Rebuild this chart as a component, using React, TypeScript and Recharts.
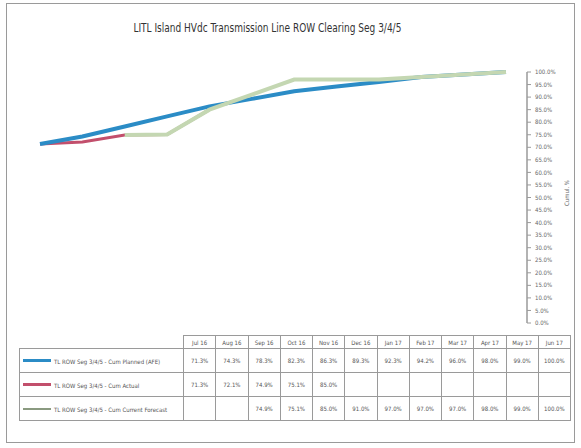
import { LineChart, Line, XAxis, YAxis } from 'recharts';

const months = ['Jul 16', 'Aug 16', 'Sep 16', 'Oct 16', 'Nov 16', 'Dec 16', 'Jan 17', 'Feb 17', 'Mar 17', 'Apr 17', 'May 17', 'Jun 17'];
const planned = [71.3, 74.3, 78.3, 82.3, 86.3, 89.3, 92.3, 94.2, 96.0, 98.0, 99.0, 100.0];
const actual = [71.3, 72.1, 74.9, 75.1, 85.0, null, null, null, null, null, null, null];
const forecast = [null, null, 74.9, 75.1, 85.0, 91.0, 97.0, 97.0, 97.0, 98.0, 99.0, 100.0];
const yTicks = [0, 5, 10, 15, 20, 25, 30, 35, 40, 45, 50, 55, 60, 65, 70, 75, 80, 85, 90, 95, 100];

const seriesNames = [
  'TL ROW Seg 3/4/5 - Cum Planned (AFE)',
  'TL ROW Seg 3/4/5 - Cum Actual',
  'TL ROW Seg 3/4/5 - Cum Current Forecast',
];

const BLUE = '#2B8CC6';
const RED = '#C24F6C';
const GREEN = '#C4D7B2';
const FONT = '"Liberation Sans Narrow", "DejaVu Sans Condensed", "Liberation Sans", sans-serif';
const GRID = '#9a9a9a';

const data = months.map((m, i) => ({ month: m, planned: planned[i], actual: actual[i], forecast: forecast[i] }));

const fmt = (v: number | null) => (v == null ? '' : `${v.toFixed(1)}%`);

const rows = [
  { name: seriesNames[0], values: planned, color: BLUE, width: 3 },
  { name: seriesNames[1], values: actual, color: RED, width: 3 },
  { name: seriesNames[2], values: forecast, color: '#8a9a80', width: 1.5 },
];

export default function App() {
  const firstCol = 164;
  const colW = 32.25;
  const cell = { border: `1.5px solid ${GRID}`, textAlign: 'center' as const, fontSize: 6, color: '#555', padding: 0, overflow: 'hidden' };

  return (
    <div style={{ position: 'absolute', left: 0, top: 0, width: 581, height: 448, background: '#fff', fontFamily: FONT }}>
      <div style={{ position: 'absolute', left: 6, top: 3, width: 567, height: 438, border: `1.5px solid ${GRID}` }} />
      <div
        style={{
          position: 'absolute', left: 0, width: 535, top: 20, textAlign: 'center', fontSize: 12.5, color: '#333',
          transform: 'scaleX(0.8)', transformOrigin: '267px 0',
        }}
      >
        LITL Island HVdc Transmission Line ROW Clearing Seg 3/4/5
      </div>

      <div style={{ position: 'absolute', left: 0, top: 0 }}>
        <LineChart width={581} height={448} data={data} margin={{ top: 72, right: 14, bottom: 125, left: 19 }}>
          <XAxis dataKey="month" hide padding={{ left: 21, right: 21 }} />
          <YAxis
            orientation="right"
            width={40}
            domain={[0, 100]}
            ticks={yTicks}
            interval={0}
            tickFormatter={(v: number) => `${v.toFixed(1)}%`}
            tick={{ fontSize: 6, fill: '#666', fontFamily: FONT }}
            tickSize={4}
            tickMargin={4}
            stroke={GRID}
            axisLine={{ stroke: GRID, strokeWidth: 1.5 }}
          />
          <Line dataKey="actual" stroke={RED} strokeWidth={3} dot={false} type="linear" isAnimationActive={false} />
          <Line dataKey="planned" stroke={BLUE} strokeWidth={4} dot={false} type="linear" isAnimationActive={false} />
          <Line dataKey="forecast" stroke={GREEN} strokeWidth={4} dot={false} type="linear" isAnimationActive={false} />
        </LineChart>
      </div>

      <div
        style={{
          position: 'absolute', left: 566, top: 193, transform: 'translate(-50%, -50%) rotate(-90deg)',
          fontSize: 6, color: '#666', whiteSpace: 'nowrap',
        }}
      >
        Cumul. %
      </div>

      <table
        style={{
          position: 'absolute', left: 19, top: 335, width: firstCol + colW * 12, borderCollapse: 'collapse',
          tableLayout: 'fixed', fontFamily: FONT,
        }}
      >
        <colgroup>
          <col style={{ width: firstCol }} />
          {months.map((m) => (
            <col key={m} style={{ width: colW }} />
          ))}
        </colgroup>
        <tbody>
          <tr style={{ height: 13 }}>
            <td style={{ padding: 0, border: 'none', borderBottom: `1.5px solid ${GRID}` }} />
            {months.map((m) => (
              <td key={m} style={cell}>{m}</td>
            ))}
          </tr>
          {rows.map((r) => (
            <tr key={r.name} style={{ height: 24 }}>
              <td style={{ ...cell, textAlign: 'left', whiteSpace: 'nowrap' }}>
                <span style={{ display: 'inline-block', width: 28, height: r.width, background: r.color, verticalAlign: 'middle', marginLeft: 3, marginRight: 3 }} />
                <span style={{ verticalAlign: 'middle' }}>{r.name}</span>
              </td>
              {r.values.map((v, i) => (
                <td key={i} style={cell}>{fmt(v)}</td>
              ))}
            </tr>
          ))}
        </tbody>
      </table>
    </div>
  );
}
